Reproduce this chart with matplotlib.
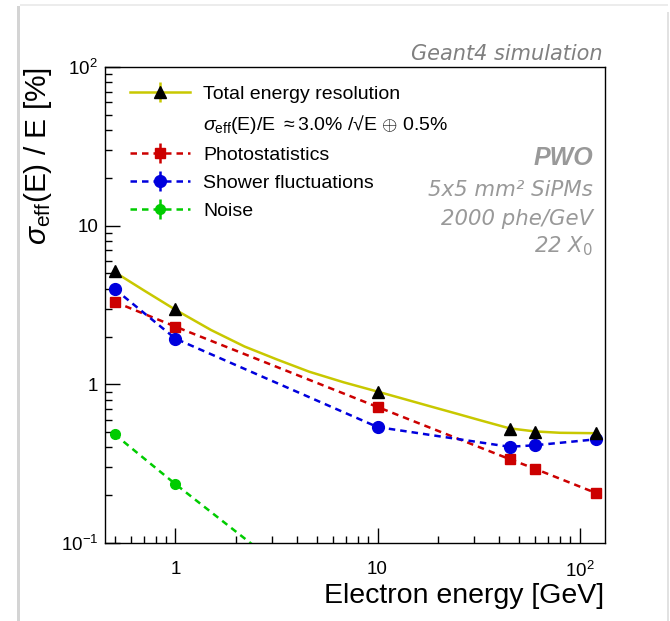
import numpy as np
import matplotlib
matplotlib.use("Agg")
import matplotlib.pyplot as plt
from matplotlib.lines import Line2D
from matplotlib.patches import Rectangle
from matplotlib.ticker import FixedLocator, FixedFormatter, LogLocator, NullFormatter

plt.rcParams["font.family"] = ["Liberation Sans", "DejaVu Sans"]
plt.rcParams["mathtext.fontset"] = "custom"
plt.rcParams["mathtext.rm"] = "Liberation Sans"
plt.rcParams["mathtext.it"] = "Liberation Sans:italic"
plt.rcParams["mathtext.bf"] = "Liberation Sans:bold"

# Data
energy = [0.5, 1.0, 10.0, 45.0, 60.0, 120.0]
total = [5.15, 2.98, 0.90, 0.523, 0.503, 0.496]
photostat = [3.31, 2.31, 0.72, 0.338, 0.294, 0.207]
shower = [3.99, 1.94, 0.538, 0.404, 0.413, 0.45]
noise = [0.484, 0.235, 0.0235, 0.0052, 0.0039, 0.0020]

# fitted curve for the total resolution
fit_e = [0.5, 0.7, 1.0, 1.5, 2.2, 3.2, 4.6, 6.8, 10, 13, 18, 25, 32, 45, 60, 80, 120]
fit_v = [5.1, 3.9, 2.95, 2.2, 1.73, 1.43, 1.20, 1.03, 0.90, 0.82, 0.73, 0.65,
         0.595, 0.528, 0.505, 0.495, 0.492]

xticks = [1, 10, 100]
xticklabels = ["1", "10", r"$\mathregular{10^{2}}$"]
yticks = [0.1, 1, 10, 100]
yticklabels = [r"$\mathregular{10^{-1}}$", "1", "10", r"$\mathregular{10^{2}}$"]

c_tot = "#c8c800"
c_red = "#cc0000"
c_blue = "#0000dd"
c_green = "#00cc00"
dash = (0, (2.6, 2.0))

W, H = 670, 621
fig = plt.figure(figsize=(W / 100, H / 100), dpi=100)
fig.patch.set_facecolor("white")

# card shadow around the canvas
fig.patches.append(Rectangle((17 / W, -0.05), 3 / W, 1.04, transform=fig.transFigure,
                             facecolor="#d4d4d4", edgecolor="none", zorder=-2))
fig.patches.append(Rectangle((20 / W, 1 - 6 / H), 648 / W, 2 / H, transform=fig.transFigure,
                             facecolor="#ececec", edgecolor="none", zorder=-2))
fig.patches.append(Rectangle((667 / W, -0.05), 2 / W, 1.04 - 6 / H, transform=fig.transFigure,
                             facecolor="#e2e2e2", edgecolor="none", zorder=-2))

ax = fig.add_axes([105 / W, 1 - 543 / H, 499.6 / W, 476 / H])
ax.set_xscale("log")
ax.set_yscale("log")

ax.plot(fit_e, fit_v, color=c_tot, lw=1.8, zorder=2)

ax.errorbar(energy, photostat, yerr=np.zeros(len(energy)), fmt="s", ls=dash, color=c_red,
            ms=7, lw=1.8, capsize=3, zorder=3)
ax.errorbar(energy, shower, yerr=np.zeros(len(energy)), fmt="o", ls=dash, color=c_blue,
            ms=8.5, lw=1.8, capsize=3, zorder=3)
ax.errorbar(energy, noise, yerr=np.zeros(len(energy)), fmt="o", ls=dash, color=c_green,
            ms=7, lw=1.8, capsize=3, zorder=3)
ax.plot(energy, total, "^", color="black", ms=8.5, ls="none", zorder=4)

# legend proxies
h_tot = ax.errorbar([], [], yerr=[], fmt="-^", color=c_tot, mfc="black", mec="black",
                    ms=8.5, lw=1.8, capsize=3)
h_red = ax.errorbar([], [], yerr=[], fmt="s", ls=dash, color=c_red, ms=7, lw=1.8, capsize=3)
h_blue = ax.errorbar([], [], yerr=[], fmt="o", ls=dash, color=c_blue, ms=8.5, lw=1.8, capsize=3)
h_green = ax.errorbar([], [], yerr=[], fmt="o", ls=dash, color=c_green, ms=7, lw=1.8, capsize=3)
h_blank = Line2D([], [], ls="none", marker="none")

leg = ax.legend(
    [h_tot, h_blank, h_red, h_blue, h_green],
    ["Total energy resolution",
     r"$\sigma_{\mathrm{eff}}$(E)/E $\approx$3.0% /√E $\oplus$ 0.5%",
     "Photostatistics", "Shower fluctuations", "Noise"],
    loc="upper left", bbox_to_anchor=(0.05, 0.962), frameon=False, fontsize=14,
    handlelength=3.1, handletextpad=0.65, labelspacing=0.53, numpoints=1,
    borderaxespad=0, borderpad=0,
)

ax.set_xlim(0.448, 133)
ax.set_ylim(0.1, 100)

ax.xaxis.set_major_locator(FixedLocator(xticks))
ax.xaxis.set_major_formatter(FixedFormatter(xticklabels))
ax.yaxis.set_major_locator(FixedLocator(yticks))
ax.yaxis.set_major_formatter(FixedFormatter(yticklabels))
ax.xaxis.set_minor_locator(LogLocator(base=10, subs=np.arange(2, 10)))
ax.yaxis.set_minor_locator(LogLocator(base=10, subs=np.arange(2, 10)))
ax.xaxis.set_minor_formatter(NullFormatter())
ax.yaxis.set_minor_formatter(NullFormatter())

ax.tick_params(which="both", direction="in", top=False, right=False, width=1, labelsize=13.5)
ax.tick_params(which="major", length=10.5)
ax.tick_params(which="minor", length=5.2)
ax.tick_params(axis="x", which="major", pad=13)
ax.tick_params(axis="y", which="major", pad=5)
for sp in ax.spines.values():
    sp.set_linewidth(1.0)

ax.set_xlabel("Electron energy [GeV]", fontsize=20.5, loc="right")
ax.xaxis.label.set_va("baseline")
ax.xaxis.set_label_coords(1.0, -0.126)
ax.set_ylabel(r"$\sigma_{\mathrm{eff}}$(E) / E [%]", fontsize=21.5, loc="top")
ax.yaxis.set_label_coords(-0.102, 1.0)

fig.text(603 / W, 1 - 60 / H, "Geant4 simulation", ha="right", va="baseline",
         fontsize=15, style="italic", color="#808080", family="DejaVu Sans")
fig.text(593 / W, 1 - 165 / H, "PWO", ha="right", va="baseline", fontsize=18,
         style="italic", weight="bold", color="#999999")
fig.text(593 / W, 1 - 195.5 / H, "5x5 mm² SiPMs", ha="right", va="baseline", fontsize=15.3,
         style="italic", color="#999999", family="DejaVu Sans")
fig.text(593 / W, 1 - 225 / H, "2000 phe/GeV", ha="right", va="baseline", fontsize=15.3,
         style="italic", color="#999999", family="DejaVu Sans")
fig.text(593 / W, 1 - 252 / H, r"22 X$_{\mathit{0}}$", ha="right", va="baseline",
         fontsize=15.3, style="italic", color="#999999", family="DejaVu Sans",
         math_fontfamily="dejavusans")

fig.savefig("out.png", dpi=100, facecolor="white")
